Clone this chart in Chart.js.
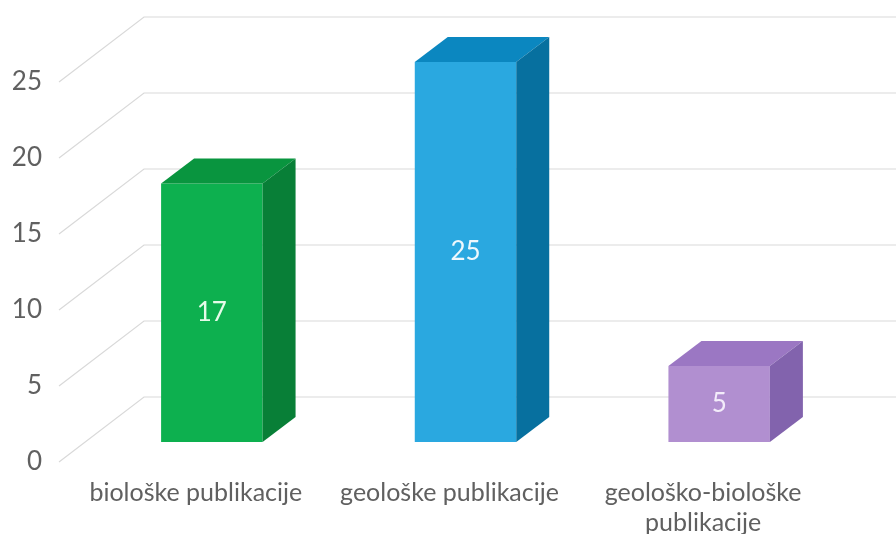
<!DOCTYPE html>
<html>
<head>
<meta charset="utf-8">
<script src="https://cdn.jsdelivr.net/npm/chart.js@4.4.1/dist/chart.umd.min.js"></script>
<style>
  html, body { margin: 0; padding: 0; background: #fff; }
  #wrap { width: 896px; height: 534px; position: relative; }
</style>
</head>
<body>
<div id="wrap"><canvas id="chart"></canvas></div>
<script>
const categories = [
  ["biološke publikacije"],
  ["geološke publikacije"],
  ["geološko-biološke", "publikacije"]
];
const values = [17, 25, 5];
const yMin = 0;
const yMax = 25;
const yStep = 5;

const frontColors = ["#0db04f", "#2aa8e0", "#b18fd0"];
const topColors = ["#09953f", "#0b87c0", "#9b77c3"];
const sideColors = ["#087f37", "#07709f", "#8263ad"];
const labelColors = ["#e6fbe9", "#eef8fd", "#f3ecfa"];

// perspective offsets (pixels)
const barDepth = { dx: 33, dy: -25 };
const frontEdge = { dx: -26, dy: 20 };
const backWall = { dx: 59, dy: -45 };

const bars3d = {
  id: "bars3d",
  beforeDatasetsDraw(chart) {
    const { ctx, chartArea, scales } = chart;
    const y = scales.y;
    ctx.save();
    ctx.strokeStyle = "#d9d9d9";
    ctx.lineWidth = 1.2;
    for (let v = yMin; v <= yMax; v += yStep) {
      const py = y.getPixelForValue(v);
      ctx.beginPath();
      ctx.moveTo(chartArea.left + frontEdge.dx, py + frontEdge.dy);
      ctx.lineTo(chartArea.left + backWall.dx, py + backWall.dy);
      ctx.lineTo(chartArea.right + backWall.dx, py + backWall.dy);
      ctx.stroke();
    }
    ctx.restore();
  },
  afterDatasetsDraw(chart) {
    const { ctx } = chart;
    const meta = chart.getDatasetMeta(0);
    ctx.save();
    meta.data.forEach((bar, i) => {
      const p = bar.getProps(["x", "y", "base", "width"], true);
      const l = p.x - p.width / 2;
      const r = p.x + p.width / 2;
      // top face
      ctx.fillStyle = topColors[i];
      ctx.beginPath();
      ctx.moveTo(l, p.y);
      ctx.lineTo(l + barDepth.dx, p.y + barDepth.dy);
      ctx.lineTo(r + barDepth.dx, p.y + barDepth.dy);
      ctx.lineTo(r, p.y);
      ctx.closePath();
      ctx.fill();
      // side face
      ctx.fillStyle = sideColors[i];
      ctx.beginPath();
      ctx.moveTo(r, p.y);
      ctx.lineTo(r + barDepth.dx, p.y + barDepth.dy);
      ctx.lineTo(r + barDepth.dx, p.base + barDepth.dy);
      ctx.lineTo(r, p.base);
      ctx.closePath();
      ctx.fill();
      // value label
      ctx.fillStyle = labelColors[i];
      ctx.font = "26px Lato";
      ctx.textAlign = "center";
      ctx.textBaseline = "middle";
      ctx.fillText(String(values[i]), p.x, (p.y + p.base) / 2);
    });
    ctx.restore();
  }
};

new Chart(document.getElementById("chart"), {
  type: "bar",
  data: {
    labels: categories,
    datasets: [{
      data: values,
      backgroundColor: frontColors,
      borderWidth: 0,
      barPercentage: 0.4,
      categoryPercentage: 1
    }]
  },
  options: {
    responsive: true,
    maintainAspectRatio: false,
    animation: false,
    layout: { padding: { top: 62, right: 50, left: 0, bottom: 0 } },
    plugins: { legend: { display: false }, tooltip: { enabled: false } },
    scales: {
      x: {
        grid: { display: false, drawTicks: false },
        border: { display: false },
        ticks: {
          color: "#606060",
          font: { family: "Lato", size: 25 },
          padding: 36,
          labelOffset: -16,
          maxRotation: 0
        },
        afterFit(scale) { scale.height = 92; }
      },
      y: {
        min: yMin,
        max: yMax,
        grid: { display: false, drawTicks: false },
        border: { display: false },
        ticks: {
          stepSize: yStep,
          color: "#606060",
          font: { family: "Lato", size: 26 },
          padding: 43,
          labelOffset: 20
        },
        afterFit(scale) { scale.width = 85; }
      }
    }
  },
  plugins: [bars3d]
});
</script>
</body>
</html>
